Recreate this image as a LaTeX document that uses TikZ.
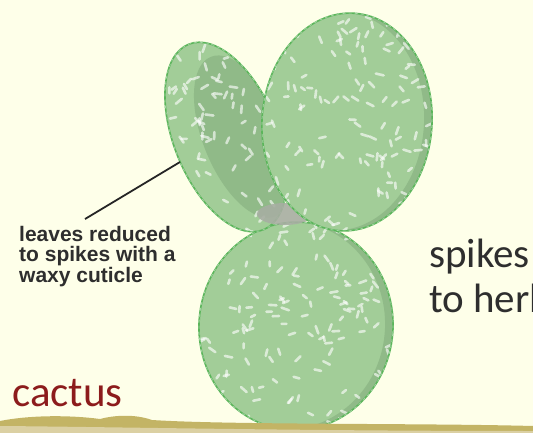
\documentclass[tikz,border=0pt]{standalone}
\usepackage{fontspec}
\newfontfamily\calfont{Carlito}
\newfontfamily\arialfont{Liberation Sans}

\definecolor{bg}{HTML}{FEFFE9}
\definecolor{padfill}{HTML}{A2CD98}
\definecolor{paddark}{HTML}{90BA88}
\definecolor{padedge}{HTML}{5BB55A}
\definecolor{shadegray}{HTML}{A7AEA2}
\definecolor{groundA}{HTML}{C3B465}
\definecolor{groundB}{HTML}{DBD0A3}
\definecolor{txtgray}{HTML}{2E2E2E}
\definecolor{cactusred}{HTML}{8C1C1C}

\tikzset{
  spike/.style={white, opacity=0.62, line width=2.6pt, line cap=round},
  rim/.style={padedge, line width=1.6pt},
  rimdash/.style={white, opacity=0.45, line width=0.7pt, dash pattern=on 3pt off 3pt},
  bigtext/.style={anchor=base west, inner sep=0pt, font=\calfont\fontsize{41}{45}\selectfont},
}

% random white spikes scattered over a pad of radii #2 x #3
\newcommand\padspikes[3]{%
  \foreach \k in {1,...,#1}{%
    \pgfmathsetmacro\spX{#2*rand}%
    \pgfmathsetmacro\spY{#3*rand}%
    \pgfmathsetmacro\spA{180*rnd}%
    \pgfmathsetmacro\spL{2.2+1.8*rnd}%
    \draw[spike] (\spX,\spY) ++(\spA:-\spL) -- ++(\spA:2*\spL);
  }}

% outline of a pad with radii #1 x #2
\newcommand\padrim[2]{%
  \draw[rim] (0,0) ellipse [x radius=#1, y radius=#2];
  \draw[rimdash] (0,0) ellipse [x radius=#1, y radius=#2];}

% a flat pad: centre (#1,#2), radii #3 x #4, rotation #5, spikes #6,
% darker side crescent left over by an inner ellipse shifted by #7
\newcommand\flatpad[7]{%
  \begin{scope}[shift={(#1,#2)}, rotate=#5]
    \fill[padfill] (0,0) ellipse [x radius=#3, y radius=#4];
    \begin{scope}
      \clip (0,0) ellipse [x radius=#3, y radius=#4];
      \fill[paddark, even odd rule] (0,0) ellipse [x radius=#3, y radius=#4]
        (#7,0) ellipse [x radius=#3, y radius=#4];
      \padspikes{#6}{#3}{#4}
    \end{scope}
    \padrim{#3}{#4}
  \end{scope}}

\begin{document}
\begin{tikzpicture}[x=1pt, y=1pt]
  \useasboundingbox (0,-433) rectangle (533,0);
  \fill[bg] (0,-433) rectangle (533,0);
  \clip (0,-433) rectangle (533,0);
  \pgfmathsetseed{7}

  % lower pad
  \flatpad{296}{-326}{97}{104}{-5}{150}{-8}

  % tilted left pad, its hollow face turned towards the viewer
  \begin{scope}[shift={(226,-137)}, rotate=22]
    \fill[padfill] (0,0) ellipse [x radius=52, y radius=100];
    \begin{scope}
      \clip (0,0) ellipse [x radius=52, y radius=100];
      \fill[paddark] (16,-6) ellipse [x radius=40, y radius=86];
      \padspikes{85}{52}{100}
    \end{scope}
    \padrim{52}{100}
  \end{scope}

  % shadow where the pads meet
  \fill[shadegray, opacity=0.9] (285,-214) ellipse [x radius=28, y radius=11];

  % upper right pad
  \flatpad{347}{-122}{85}{109}{-4}{140}{-8}

  % ground strip
  \fill[groundA] (0,-433) -- (0,-421)
    .. controls (30,-415) and (70,-415) .. (100,-419)
    .. controls (115,-415) and (135,-414) .. (152,-420)
    .. controls (230,-425) and (420,-423) .. (533,-426)
    -- (533,-433) -- cycle;
  \fill[groundB] (0,-433) -- (0,-426)
    .. controls (120,-427) and (300,-431) .. (533,-431)
    -- (533,-433) -- cycle;

  % labels
  \node[anchor=base west, inner sep=0pt, align=left, text=txtgray,
        font=\arialfont\bfseries\fontsize{21}{19.5}\selectfont]
        (lbl) at (19,-282) {leaves reduced\\to spikes with a\\waxy cuticle};
  \coordinate (tail) at (85,-219);
  \coordinate (leafpt) at (180,-162);
  \draw[black!85, line width=1.8pt] (tail) -- (leafpt);

  \node[bigtext, text=txtgray] (spk) at (429,-267) {spikes};
  \node[bigtext, text=txtgray] (herb) at (429,-312) {to herb};
  \node[bigtext, text=cactusred, font=\calfont\fontsize{43}{45}\selectfont]
        (cac) at (12,-406) {cactus};
\end{tikzpicture}
\end{document}
